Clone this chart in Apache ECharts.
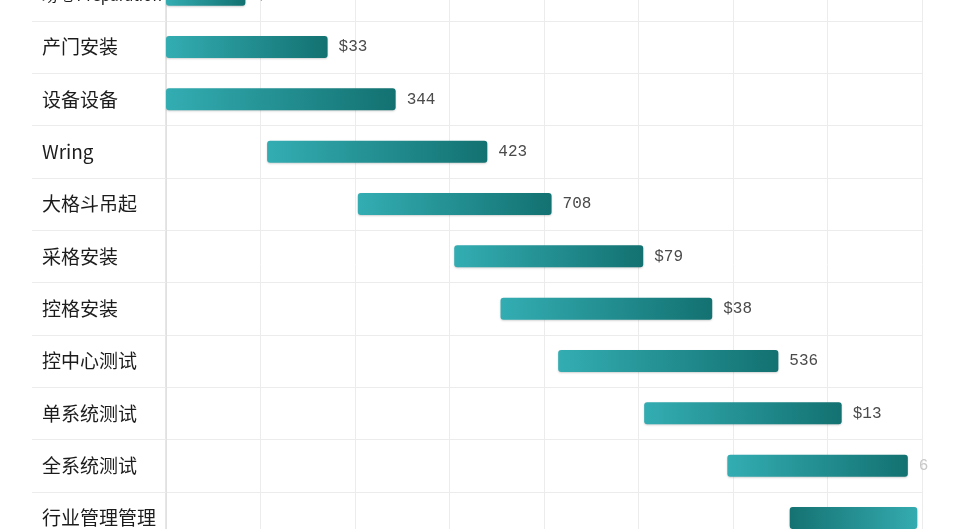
<!DOCTYPE html>
<html>
<head>
<meta charset="utf-8">
<script src="https://cdn.jsdelivr.net/npm/echarts@6/dist/echarts.min.js"></script>
<style>
html,body{margin:0;padding:0;background:#fff;}
#chart{width:954px;height:529px;}
</style>
</head>
<body>
<div id="chart"></div>
<script>
const categories = ['场地 Preparation','产门安装','设备设备','Wring','大格斗吊起','采格安装','控格安装','控中心测试','单系统测试','全系统测试','行业管理管理'];
const startValues = [0, 0, 0, 10.7, 20.3, 30.5, 35.4, 41.5, 50.6, 59.4, 66.0];
const endValues   = [8.4, 17.1, 24.3, 34.0, 40.8, 50.5, 57.8, 64.8, 71.5, 78.5, 79.5];
const valueLabels = ['$18','$33','344','423','708','$79','$38','536','$13','6',''];
const xTicks = {min: 0, max: 80, interval: 10};

const durations = endValues.map((e, i) => +(e - startValues[i]).toFixed(2));

const normalGrad = new echarts.graphic.LinearGradient(0, 0, 1, 0, [
  {offset: 0, color: '#33adb2'},
  {offset: 1, color: '#137171'}
]);
const reverseGrad = new echarts.graphic.LinearGradient(0, 0, 1, 0, [
  {offset: 0, color: '#157272'},
  {offset: 1, color: '#34abb0'}
]);

const barData = durations.map((d, i) => {
  const item = {value: d};
  if (i === durations.length - 1) item.itemStyle = {color: reverseGrad};
  if (valueLabels[i] === '6') item.label = {color: '#c8c8c8'};
  return item;
});

const chart = echarts.init(document.getElementById('chart'));
chart.setOption({
  backgroundColor: '#ffffff',
  animation: false,
  grid: {left: 166, right: 32, top: -31.5, bottom: -15.2, containLabel: false, outerBoundsMode: 'none'},
  xAxis: {
    type: 'value',
    min: xTicks.min, max: xTicks.max, interval: xTicks.interval,
    axisLine: {show: false},
    axisTick: {show: false},
    axisLabel: {show: false},
    splitLine: {show: true, lineStyle: {color: '#ececec', width: 1}}
  },
  yAxis: {
    type: 'category',
    inverse: true,
    data: categories,
    axisLine: {show: true, lineStyle: {color: '#dedede', width: 1.5}},
    axisTick: {show: true, length: 134, lineStyle: {color: '#ececec', width: 1}},
    splitLine: {show: true, lineStyle: {color: '#ececec', width: 1}},
    axisLabel: {
      align: 'left',
      margin: 124,
      color: '#1c1c1c',
      fontSize: 19,
      fontFamily: '"Noto Sans CJK SC", "Noto Sans", sans-serif',
      formatter: (v) => /[A-Za-z]/.test(v) && /[\u4e00-\u9fff]/.test(v) ? '{s|' + v + '}' : v,
      rich: {
        s: {fontSize: 15.5, color: '#1c1c1c', fontFamily: '"Noto Sans CJK SC", "Noto Sans", sans-serif'}
      }
    }
  },
  series: [
    {
      type: 'bar',
      stack: 'gantt',
      data: startValues,
      barWidth: 22,
      itemStyle: {color: 'transparent'},
      silent: true
    },
    {
      type: 'bar',
      stack: 'gantt',
      data: barData,
      barWidth: 22,
      itemStyle: {
        color: normalGrad,
        borderRadius: 3,
        shadowBlur: 2,
        shadowColor: 'rgba(0,0,0,0.18)',
        shadowOffsetY: 1
      },
      label: {
        show: true,
        position: 'right',
        distance: 11,
        color: '#4a4a4a',
        fontSize: 16,
        fontFamily: '"Liberation Mono", "DejaVu Sans Mono", monospace',
        formatter: p => valueLabels[p.dataIndex]
      }
    }
  ]
});
</script>
</body>
</html>
